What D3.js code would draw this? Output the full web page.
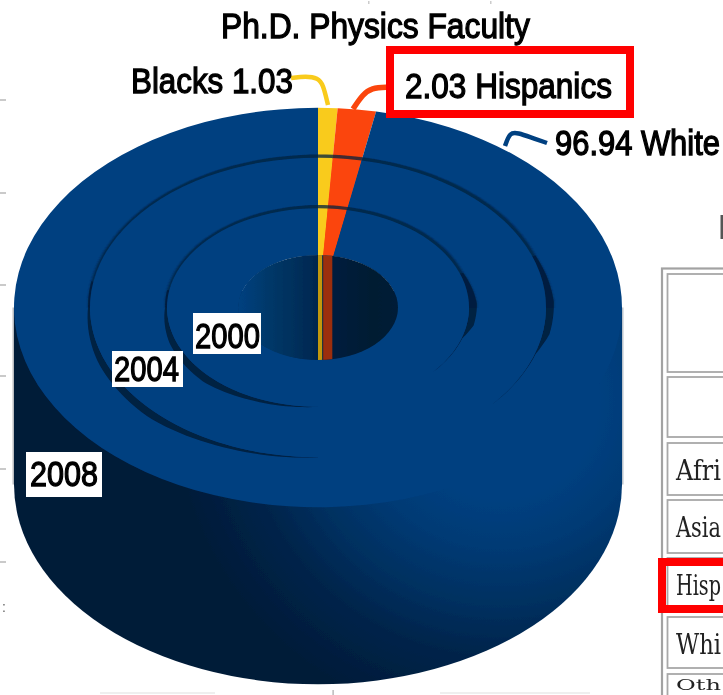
<!DOCTYPE html>
<html>
<head>
<meta charset="utf-8">
<script src="https://cdn.jsdelivr.net/npm/d3@7"></script>
<style>
html,body{margin:0;padding:0;background:#fff;overflow:hidden}
svg{display:block}
text{font-family:"Liberation Sans",Arial,sans-serif;fill:#000}
</style>
</head>
<body>
<svg id="c" width="723" height="695"></svg>
<script>
// ---- data ----
const sliceNames = ["Blacks", "Hispanics", "Whites"];
const sliceValues = [1.03, 2.03, 96.94];
const sliceColors = ["#f9cb1f", "#fb4509", "#004080"];
const years = ["2000", "2004", "2008"];
const tableRowLabels = ["", "", "Afri", "Asia", "Hisp", "Whi", "Oth"];

// ---- layout ----
const W = 723, H = 695, cx = 318, cy = 307.5, k = 0.657, depth = 177;
const holeR = 80;
const ringOuter = [151, 228, 304];
const svg = d3.select("#c");
const defs = svg.append("defs");
const soft = defs.append("filter").attr("id", "soft").attr("x", "-5%").attr("y", "-5%").attr("width", "110%").attr("height", "110%");
soft.append("feGaussianBlur").attr("stdDeviation", 0.45);
const soft2 = defs.append("filter").attr("id", "soft2").attr("x", "-5%").attr("y", "-5%").attr("width", "110%").attr("height", "110%");
soft2.append("feGaussianBlur").attr("stdDeviation", 0.9);

function grad(id, x1, y1, x2, y2, stops) {
  const g = defs.append("linearGradient").attr("id", id).attr("gradientUnits", "userSpaceOnUse")
    .attr("x1", x1).attr("y1", y1).attr("x2", x2).attr("y2", y2);
  stops.forEach(s => g.append("stop").attr("offset", s[0]).attr("stop-color", s[1]));
}
const wallGrad = defs.append("radialGradient").attr("id", "wall").attr("gradientUnits", "userSpaceOnUse")
  .attr("cx", 500).attr("cy", 400).attr("r", 330);
[[0.3, "#004080"], [0.45, "#003a74"], [0.62, "#003060"], [0.78, "#00244a"], [1, "#001b38"]]
  .forEach(s => wallGrad.append("stop").attr("offset", s[0]).attr("stop-color", s[1]));
grad("hole", cx - holeR, 0, cx + holeR, 0, [[0, "#004080"], [0.2, "#023868"], [0.45, "#002a54"], [0.58, "#001f3e"], [0.85, "#001a32"], [1, "#001d38"]]);

// squeeze a text horizontally to a measured width
function fit(node, x, y, len) {
  const natural = node.getComputedTextLength();
  d3.select(node).attr("transform", `translate(${x},${y}) scale(${len / natural},1)`);
}

const bg = svg.append("g").attr("filter", "url(#soft)");

// faint remains of the page behind the chart
const gridYs = [100, 193, 285, 376, 469, 562];
bg.selectAll("line.g").data(gridYs).join("line").attr("class", "g")
  .attr("x1", 0).attr("x2", 6).attr("y1", d => d).attr("y2", d => d)
  .attr("stroke", "#b8b8b8").attr("stroke-width", 1.5);
bg.append("rect").attr("x", 12.5).attr("y", cy).attr("width", 2.5).attr("height", depth).attr("fill", "#b9bcc0");
bg.append("rect").attr("x", 621).attr("y", cy).attr("width", 2.5).attr("height", depth).attr("fill", "#bcc4cc");
bg.append("rect").attr("x", 332.5).attr("y", 690).attr("width", 1.2).attr("height", 5).attr("fill", "#aaa");
[[100, 115], [440, 150]].forEach(s => bg.append("rect").attr("x", s[0]).attr("y", 692).attr("width", s[1]).attr("height", 2).attr("fill", "#efefef"));
[368, 490].forEach(x => bg.append("rect").attr("x", x).attr("y", 1).attr("width", 1.5).attr("height", 3).attr("fill", "#ccc"));
bg.append("text").attr("x", 2).attr("y", 612).attr("font-size", 14).style("fill", "#666").text(":");

// table at the right, cut off by the page edge
const rowTops = [274, 377, 443, 500, 558, 617, 674];
const rowBottoms = [372, 437, 495, 553, 610, 668, 720];
const table = svg.append("g").attr("filter", "url(#soft)");
table.append("rect").attr("x", 662).attr("y", 268.5).attr("width", 80).attr("height", 500)
  .attr("fill", "#fff").attr("stroke", "#a2a2a2").attr("stroke-width", 2.2);
table.selectAll("rect.cell").data(tableRowLabels).join("rect").attr("class", "cell")
  .attr("x", 667.5).attr("y", (d, i) => rowTops[i]).attr("width", 80)
  .attr("height", (d, i) => rowBottoms[i] - rowTops[i])
  .attr("fill", "#fff").attr("stroke", "#a8a8a8").attr("stroke-width", 1.8);
table.selectAll("text.lab").data(tableRowLabels.filter(d => d)).join("text").attr("class", "lab")
  .style("font-family", "'DejaVu Serif',serif").attr("font-size", d => d === "Oth" ? 14 : 27).style("fill", "#222")
  .text(d => d)
  .each(function (d) {
    const i = tableRowLabels.indexOf(d);
    fit(this, 676, rowTops[i] + (d === "Oth" ? 16 : 37), 45);
  });
table.append("rect").attr("x", 720.5).attr("y", 215).attr("width", 2.5).attr("height", 24).attr("fill", "#555");

// chart
const chart = svg.append("g").attr("filter", "url(#soft)");

// side wall
chart.append("rect").attr("x", cx - ringOuter[2]).attr("y", cy).attr("width", 2 * ringOuter[2]).attr("height", depth).attr("fill", "url(#wall)");
chart.append("ellipse").attr("cx", cx).attr("cy", cy + depth).attr("rx", ringOuter[2]).attr("ry", ringOuter[2] * k).attr("fill", "url(#wall)");

const pie = d3.pie().sort(null).value(d => d);
const arcs = pie(sliceValues);
const plane = chart.append("g").attr("transform", `translate(${cx},${cy}) scale(1,${k})`);
const arc = d3.arc();

// groove thickness round each inner ring, clockwise from the top
const grooveAngle = [0, 45, 70, 88, 100, 108, 130, 180, 205, 225, 250, 270, 300, 360];
const grooveWidth = [5, 4.5, 3.5, 8, 7, 0.8, 0.2, 0.3, 5, 10, 7, 2, 2.5, 5];
const grooveScale = d3.scaleLinear().domain(grooveAngle).range(grooveWidth);
const backDeg = d3.range(-90, 91, 2).map(a => (a + 360) % 360);
const rightDeg = d3.range(70, 131, 2);
const leftDeg = d3.range(180, 281, 2);

[2, 1, 0].forEach(r => {
  const R = ringOuter[r];
  plane.selectAll(null).data(arcs).join("path")
    .attr("d", d => arc({innerRadius: holeR, outerRadius: R, startAngle: d.startAngle, endAngle: d.endAngle}))
    .attr("fill", (d, i) => sliceColors[i]);
  if (r > 0) {
    const inner = ringOuter[r - 1];
    const shape = d3.areaRadial()
      .angle(a => a * Math.PI / 180)
      .innerRadius(inner)
      .outerRadius(a => inner + grooveScale(a));
    const back = d3.areaRadial()
      .angle(a => (a > 180 ? a - 360 : a) * Math.PI / 180)
      .innerRadius(inner - 1.5)
      .outerRadius(a => inner + grooveScale(a));
    plane.append("path").attr("d", back(backDeg)).attr("fill", "#001f3f").attr("fill-opacity", 0.75).attr("filter", "url(#soft2)");
    plane.selectAll(null).data([rightDeg, leftDeg]).join("path")
      .attr("d", d => shape(d)).attr("fill", "#001f3f").attr("fill-opacity", 0.95);
  }
});

// the centre hole and the slice edges seen inside it
chart.append("ellipse").attr("cx", cx).attr("cy", cy).attr("rx", holeR).attr("ry", holeR * k).attr("fill", "url(#hole)");
defs.append("clipPath").attr("id", "holeClip").append("ellipse").attr("cx", cx).attr("cy", cy).attr("rx", holeR).attr("ry", holeR * k);
const holeX = a => cx + holeR * Math.sin(a);
const holeColors = ["#c3980f", "#9c2d0f"];
chart.append("g").attr("clip-path", "url(#holeClip)").selectAll("rect").data(arcs.slice(0, 2)).join("rect")
  .attr("x", d => holeX(d.startAngle)).attr("y", cy - holeR)
  .attr("width", d => holeX(d.endAngle) - holeX(d.startAngle) - 1).attr("height", 2 * holeR)
  .attr("fill", (d, i) => holeColors[i]);

// year labels
const yearBoxes = [[193, 313, 68, 41], [112, 351, 71, 36], [26, 452, 76, 45]];
const yearText = [[195, 348, 65], [114, 381, 65], [30, 486, 68]];
chart.selectAll("rect.y").data(years).join("rect").attr("class", "y")
  .attr("x", (d, i) => yearBoxes[i][0]).attr("y", (d, i) => yearBoxes[i][1])
  .attr("width", (d, i) => yearBoxes[i][2]).attr("height", (d, i) => yearBoxes[i][3]).attr("fill", "#fff");
function label(sel, s, x, y, len, size) {
  const t = sel.append("text").attr("font-size", size)
    .attr("stroke", "#000").attr("stroke-width", 1.3).text(s);
  fit(t.node(), x, y, len);
  return t;
}
years.forEach((s, i) => label(chart, s, yearText[i][0], yearText[i][1], yearText[i][2], 36));

// leaders
const line = d3.line().curve(d3.curveBasis);
const leaders = [
  [[[291, 78], [306, 76], [318, 78], [323, 84], [328, 105]], sliceColors[0], 4.5],
  [[[405, 87], [385, 87], [372, 88], [363, 94], [353, 109]], sliceColors[1], 5.5],
  [[[547, 143], [530, 137], [518, 133], [510, 132], [505, 146]], sliceColors[2], 4.5]
];
leaders.forEach(l => chart.append("path").attr("d", line(l[0])).attr("fill", "none").attr("stroke", l[1]).attr("stroke-width", l[2]));

// red highlight frames
svg.append("rect").attr("x", 390).attr("y", 50).attr("width", 240).attr("height", 64).attr("fill", "#fff").attr("stroke", "#f00").attr("stroke-width", 8);
svg.append("rect").attr("x", 662).attr("y", 562).attr("width", 80).attr("height", 47).attr("fill", "none").attr("stroke", "#f00").attr("stroke-width", 8);
const fg = svg.append("g").attr("filter", "url(#soft)");
label(fg, "Ph.D. Physics Faculty", 221, 38, 309, 35);
label(fg, sliceNames[0] + " " + sliceValues[0], 131, 93, 162, 35);
label(fg, sliceValues[1] + " " + sliceNames[1], 405, 98, 207, 35);
label(fg, sliceValues[2] + " White", 555, 155, 165, 35);
</script>
</body>
</html>
